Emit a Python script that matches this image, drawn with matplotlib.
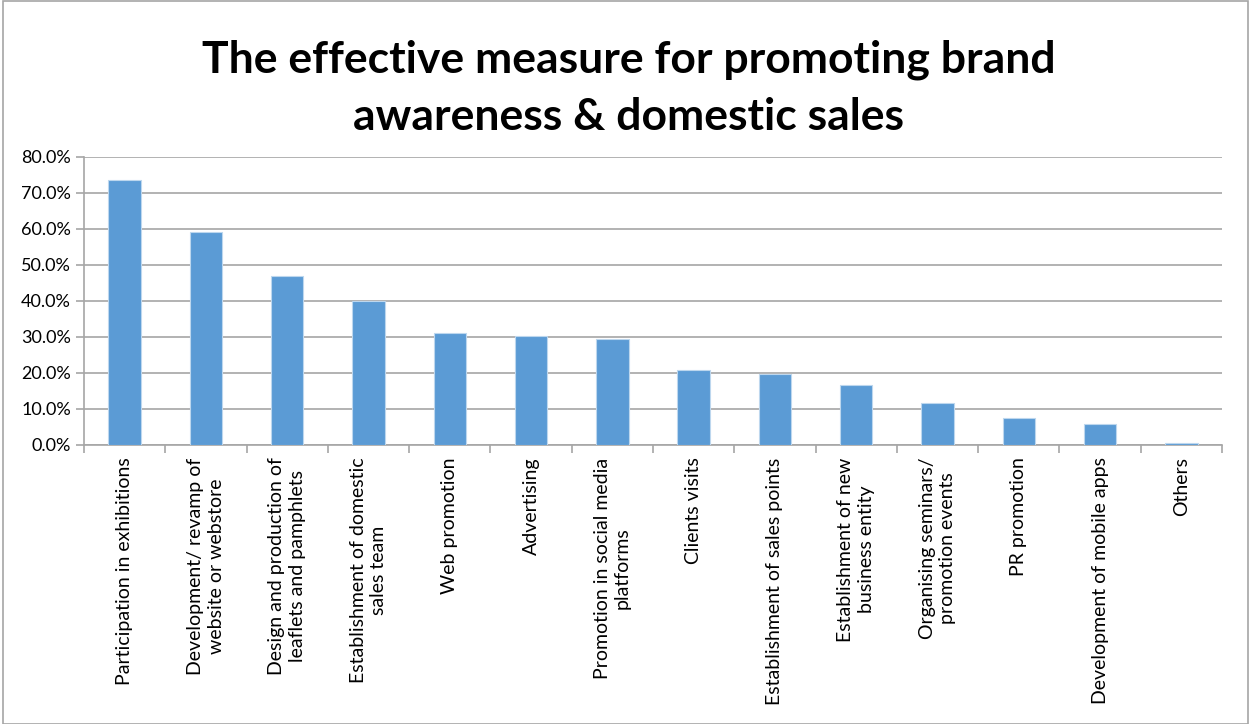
import matplotlib.pyplot as plt
from matplotlib.patches import Rectangle
from matplotlib.ticker import FuncFormatter, FixedLocator

categories = [
    'Participation in exhibitions',
    'Development/ revamp of\nwebsite or webstore',
    'Design and production of\nleaflets and pamphlets',
    'Establishment of domestic\nsales team',
    'Web promotion',
    'Advertising',
    'Promotion in social media\nplatforms',
    'Clients visits',
    'Establishment of sales points',
    'Establishment of new\nbusiness entity',
    'Organising seminars/\npromotion events',
    'PR promotion',
    'Development of mobile apps',
    'Others',
]
values = [73.6, 59.1, 46.9, 40.0, 31.0, 30.4, 29.5, 20.9, 19.6, 16.7, 11.6, 7.5, 5.9, 0.6]
title = 'The effective measure for promoting brand\nawareness & domestic sales'

plt.rcParams['font.family'] = ['Lato', 'DejaVu Sans']

fig = plt.figure(figsize=(12.5, 7.24), dpi=100)
ax = fig.add_axes([0.0672, 0.3854, 0.9104, 0.3978])

x = list(range(len(categories)))
ax.bar(x, values, width=0.4, color='#5B9BD5', edgecolor='#BDD7EE', linewidth=0.8, zorder=3)

ax.set_xlim(-0.5, len(categories) - 0.5)
ax.set_ylim(0, 80)
ax.set_yticks(range(0, 81, 10))
ax.yaxis.set_major_formatter(FuncFormatter(lambda v, p: f'{v:.1f}%'))
ax.grid(axis='y', color='#A6A6A6', linewidth=1.2, zorder=0)

ax.set_xticks(x)
ax.set_xticklabels(categories, rotation=90, ha='center', va='top',
                   multialignment='center', fontsize=14, linespacing=1.25)
ax.xaxis.set_minor_locator(FixedLocator([i - 0.5 for i in range(len(categories) + 1)]))
ax.tick_params(axis='x', which='major', length=0, pad=9)
ax.tick_params(axis='x', which='minor', length=6, color='#A6A6A6', width=1.2)
ax.tick_params(axis='y', length=6, color='#A6A6A6', width=1.2, labelsize=13)

for s in ['top', 'right']:
    ax.spines[s].set_visible(False)
ax.spines['left'].set_color('#A6A6A6')
ax.spines['bottom'].set_color('#A6A6A6')
ax.spines['left'].set_linewidth(1.2)
ax.spines['bottom'].set_linewidth(1.2)

fig.text(0.503, 0.878, title, ha='center', va='center', fontsize=32,
         fontweight='bold', linespacing=1.5)

fig.patches.append(Rectangle((0.002, 0.0), 0.996, 0.998, transform=fig.transFigure,
                             fill=False, edgecolor='#A6A6A6', linewidth=1.2))

fig.savefig('out.png', dpi=100)
